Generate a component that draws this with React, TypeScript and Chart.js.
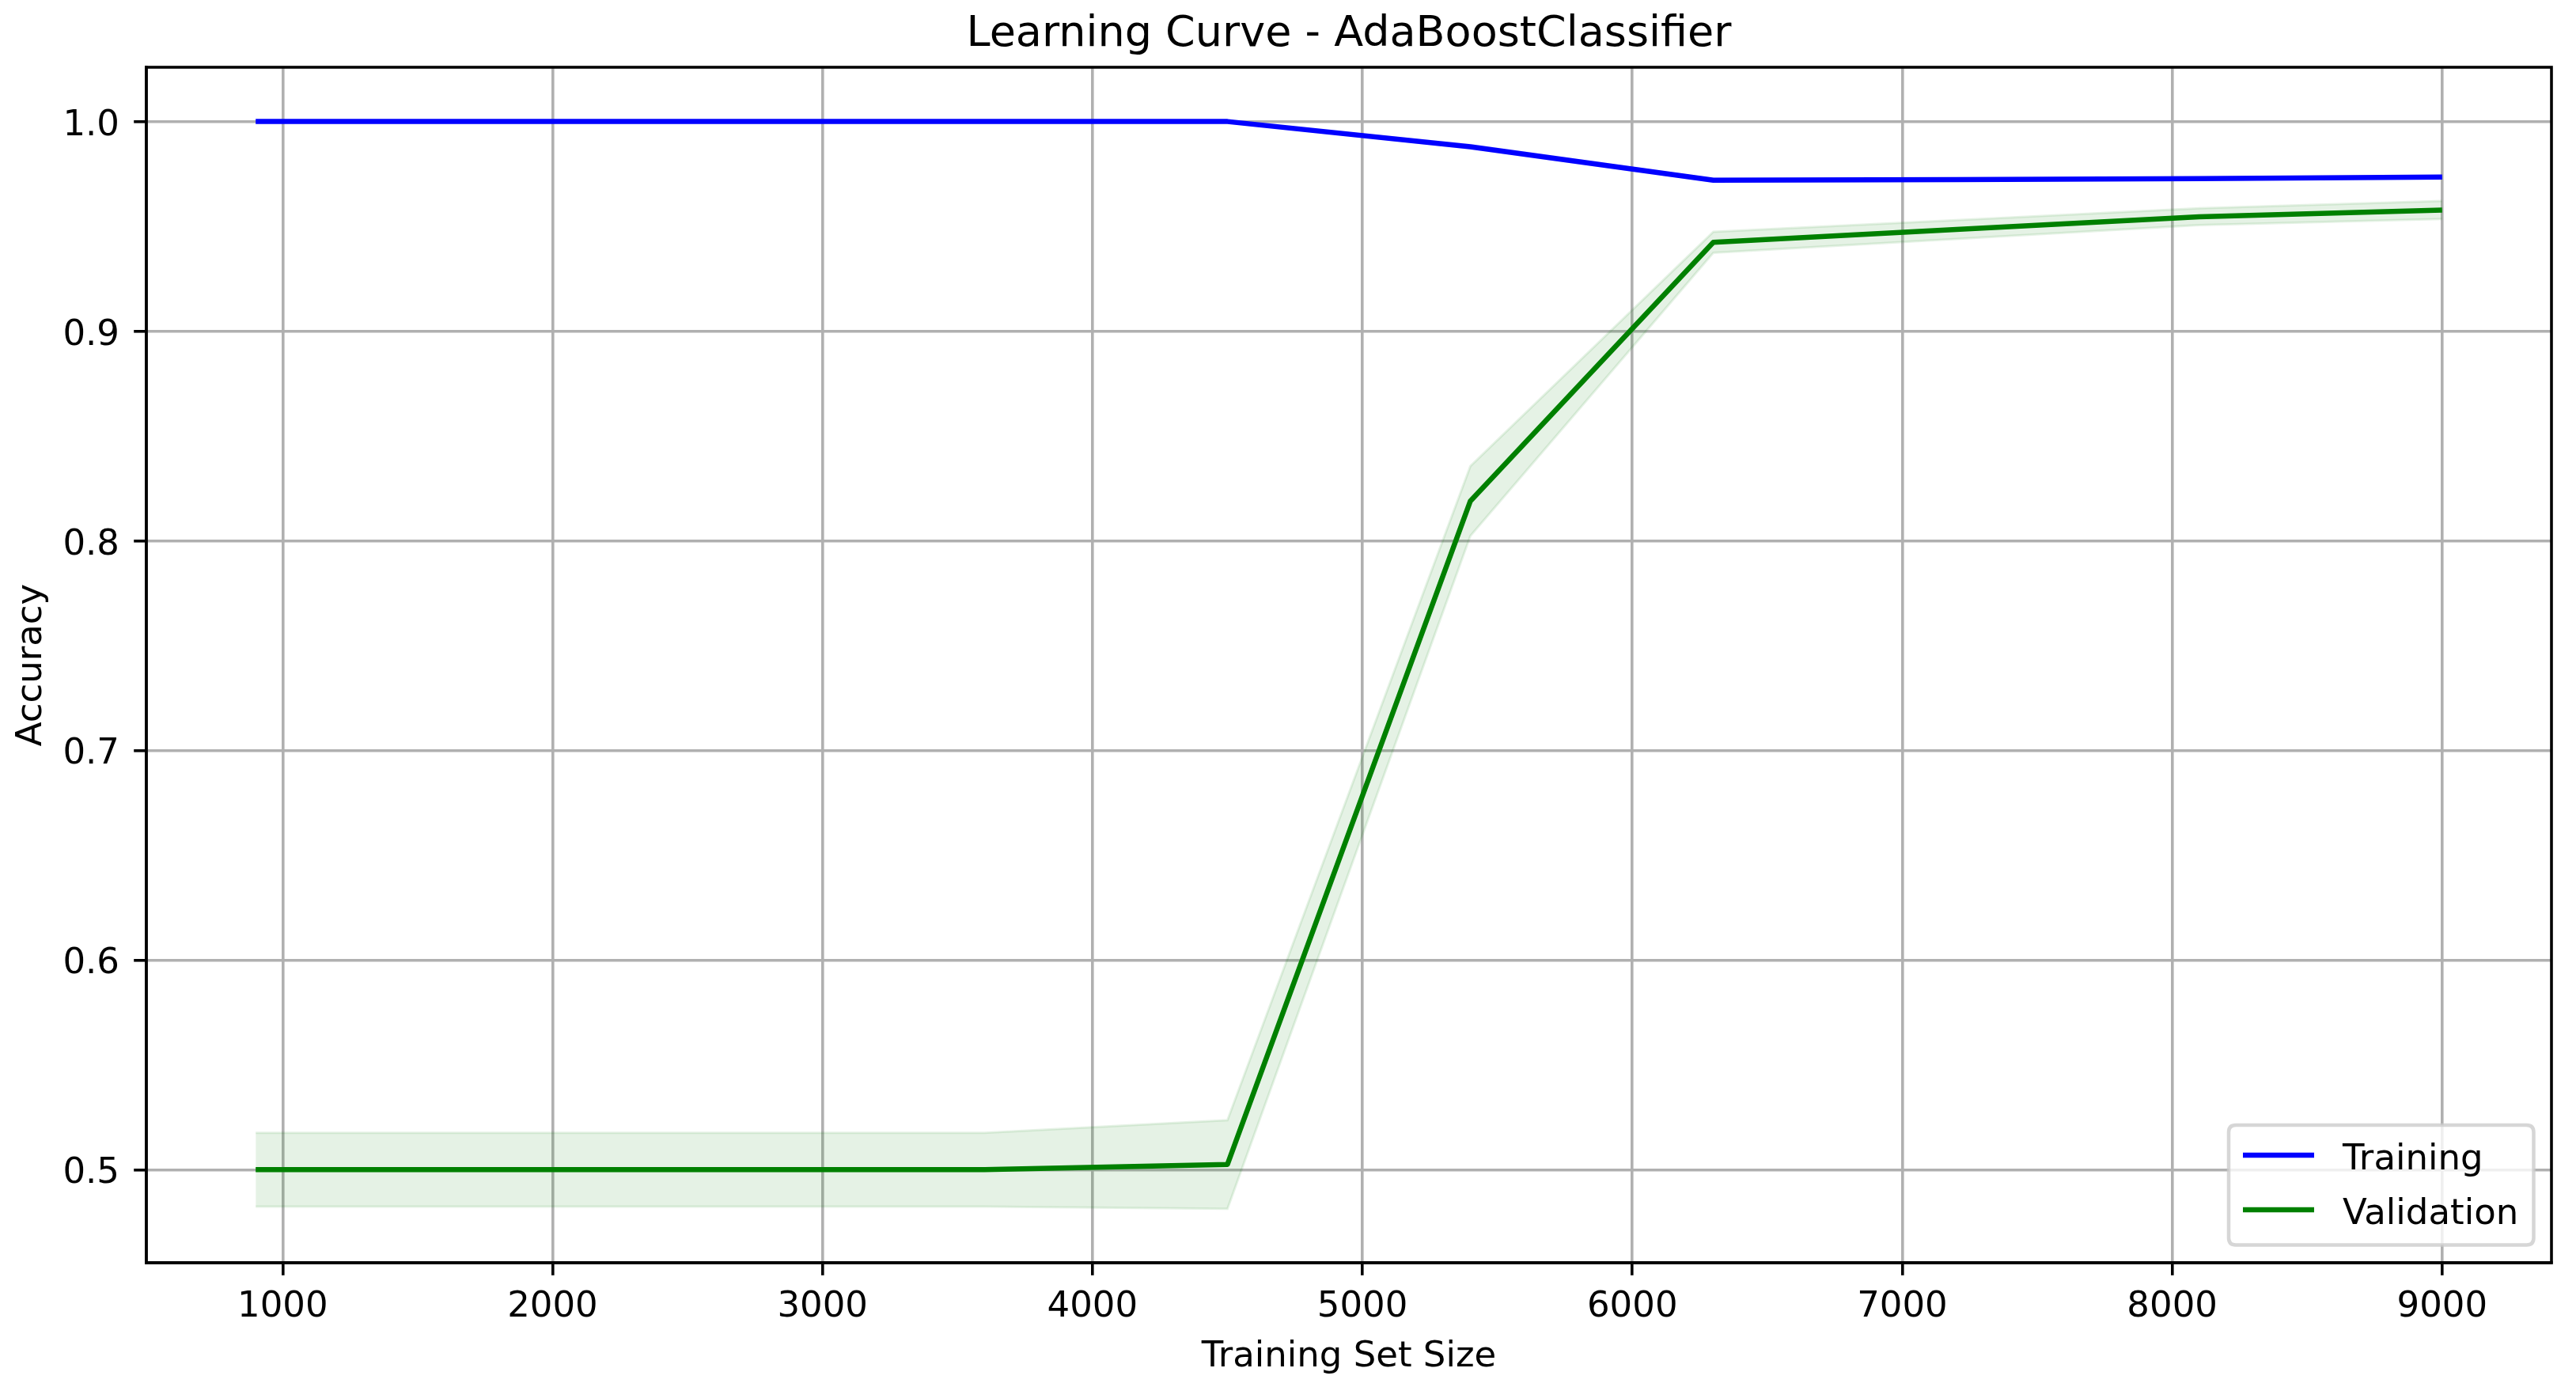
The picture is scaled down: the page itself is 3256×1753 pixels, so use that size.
import { useEffect, useRef } from "react";
import { Chart, registerables } from "chart.js";

Chart.register(...registerables);

const trainSizes = [900, 1800, 2700, 3600, 4500, 5400, 6300, 7200, 8100, 9000];
const trainMean = [1.0, 1.0, 1.0, 1.0, 1.0, 0.988, 0.972, 0.9723, 0.9728, 0.9735];
const trainStd = [0, 0, 0, 0, 0, 0.0008, 0.0006, 0.0005, 0.0005, 0.0005];
const valMean = [0.5, 0.5, 0.5, 0.5, 0.5025, 0.819, 0.9424, 0.9485, 0.9546, 0.9578];
const valStd = [0.0176, 0.0176, 0.0176, 0.0176, 0.0211, 0.0166, 0.005, 0.0045, 0.004, 0.0043];
const xTicks = [1000, 2000, 3000, 4000, 5000, 6000, 7000, 8000, 9000];
const yTicks = [0.5, 0.6, 0.7, 0.8, 0.9, 1.0];
const seriesLabels = ["Training", "Validation"];
const seriesColors = ["#0000ff", "#008000"];
const bandColors = ["rgba(0,0,255,0.1)", "rgba(0,128,0,0.1)"];
const chartTitle = "Learning Curve - AdaBoostClassifier";
const xTitle = "Training Set Size";
const yTitle = "Accuracy";

const FONT = '"DejaVu Sans", sans-serif';
const LW = 6.5;
const GRID_W = 3.6;

const pts = (ys: number[]) => trainSizes.map((x, i) => ({ x, y: ys[i] }));

const decorPlugin = {
  id: "decor",
  afterDraw(chart: any) {
    const { ctx, chartArea } = chart;
    const { left, right, top, bottom } = chartArea;
    const xs = chart.scales.x;
    const ys = chart.scales.y;
    ctx.save();
    // spines
    ctx.strokeStyle = "#000";
    ctx.lineWidth = GRID_W;
    ctx.strokeRect(left, top, right - left, bottom - top);

    ctx.fillStyle = "#000";
    ctx.font = `45px ${FONT}`;
    // x tick labels
    ctx.textAlign = "center";
    ctx.textBaseline = "alphabetic";
    for (const v of xTicks) {
      ctx.fillText(String(v), xs.getPixelForValue(v), bottom + 68);
    }
    // y tick labels
    ctx.textAlign = "right";
    for (const v of yTicks) {
      ctx.fillText(v.toFixed(1), left - 34, ys.getPixelForValue(v) + 17);
    }
    // x title
    ctx.textAlign = "center";
    ctx.fillText(xTitle, (left + right) / 2, bottom + 131);
    // y title
    ctx.save();
    ctx.translate(left - 133, (top + bottom) / 2);
    ctx.rotate(-Math.PI / 2);
    ctx.fillText(yTitle, 0, 0);
    ctx.restore();
    // title
    ctx.font = `54px ${FONT}`;
    ctx.fillText(chartTitle, (left + right) / 2, top - 27);

    // legend
    const lx = 2817, ly = 1422, lw = right - 22.5 - 2817, lh = bottom - 22.5 - 1422;
    const r = 9;
    ctx.beginPath();
    ctx.moveTo(lx + r, ly);
    ctx.lineTo(lx + lw - r, ly);
    ctx.quadraticCurveTo(lx + lw, ly, lx + lw, ly + r);
    ctx.lineTo(lx + lw, ly + lh - r);
    ctx.quadraticCurveTo(lx + lw, ly + lh, lx + lw - r, ly + lh);
    ctx.lineTo(lx + r, ly + lh);
    ctx.quadraticCurveTo(lx, ly + lh, lx, ly + lh - r);
    ctx.lineTo(lx, ly + r);
    ctx.quadraticCurveTo(lx, ly, lx + r, ly);
    ctx.closePath();
    ctx.fillStyle = "rgba(255,255,255,0.8)";
    ctx.fill();
    ctx.strokeStyle = "rgba(204,204,204,0.8)";
    ctx.lineWidth = 4.5;
    ctx.stroke();

    ctx.font = `45px ${FONT}`;
    ctx.textAlign = "left";
    seriesLabels.forEach((lab, i) => {
      const cy = 1460 + i * 69;
      ctx.strokeStyle = seriesColors[i];
      ctx.lineWidth = LW;
      ctx.beginPath();
      ctx.moveTo(lx + 18, cy);
      ctx.lineTo(lx + 108, cy);
      ctx.stroke();
      ctx.fillStyle = "#000";
      ctx.fillText(lab, lx + 144, cy + 18);
    });
    ctx.restore();
  },
};

export default function App() {
  const ref = useRef<HTMLCanvasElement | null>(null);
  useEffect(() => {
    document.body.style.margin = "0";
    const canvas = ref.current;
    if (!canvas) return;
    const band = (ys: number[], color: string, fill: any) => ({
      data: ys,
      borderColor: color,
      backgroundColor: color,
      borderWidth: 3,
      pointRadius: 0,
      fill,
      tension: 0,
    });
    const chart = new Chart(canvas, {
      type: "line",
      data: {
        datasets: [
          {
            label: seriesLabels[0],
            data: pts(trainMean),
            borderColor: seriesColors[0],
            borderWidth: LW,
            pointRadius: 0,
            fill: false,
            borderJoinStyle: "round",
            tension: 0,
          },
          {
            label: seriesLabels[1],
            data: pts(valMean),
            borderColor: seriesColors[1],
            borderWidth: LW,
            pointRadius: 0,
            fill: false,
            borderJoinStyle: "round",
            tension: 0,
          },
          band(pts(trainMean.map((m, i) => m + trainStd[i])), bandColors[0], "+1"),
          band(pts(trainMean.map((m, i) => m - trainStd[i])), bandColors[0], false),
          band(pts(valMean.map((m, i) => m + valStd[i])), bandColors[1], "+1"),
          band(pts(valMean.map((m, i) => m - valStd[i])), bandColors[1], false),
        ] as any,
      },
      options: {
        responsive: false,
        animation: false,
        devicePixelRatio: 1,
        layout: { padding: { top: 85, right: 31, bottom: 0, left: 0 } },
        plugins: {
          legend: { display: false },
          title: { display: false },
          tooltip: { enabled: false },
        },
        scales: {
          x: {
            type: "linear",
            min: 495,
            max: 9405,
            afterBuildTicks: (s: any) => {
              s.ticks = xTicks.map((v) => ({ value: v }));
            },
            afterFit: (s: any) => {
              s.height = 157;
            },
            ticks: { display: false },
            grid: {
              color: "#b0b0b0",
              lineWidth: GRID_W,
              drawTicks: true,
              tickLength: 15.8,
              tickColor: "#000",
              tickWidth: GRID_W,
            },
            border: { display: true, color: "#000", width: GRID_W },
          },
          y: {
            type: "linear",
            min: 0.4556,
            max: 1.0259,
            afterBuildTicks: (s: any) => {
              s.ticks = yTicks.map((v) => ({ value: v }));
            },
            afterFit: (s: any) => {
              s.width = 185;
            },
            ticks: { display: false },
            grid: {
              color: "#b0b0b0",
              lineWidth: GRID_W,
              drawTicks: true,
              tickLength: 15.8,
              tickColor: "#000",
              tickWidth: GRID_W,
            },
            border: { display: true, color: "#000", width: GRID_W },
          },
        },
      } as any,
      plugins: [decorPlugin],
    });
    return () => chart.destroy();
  }, []);
  return <canvas ref={ref} width={3256} height={1753} style={{ display: "block" }} />;
}
